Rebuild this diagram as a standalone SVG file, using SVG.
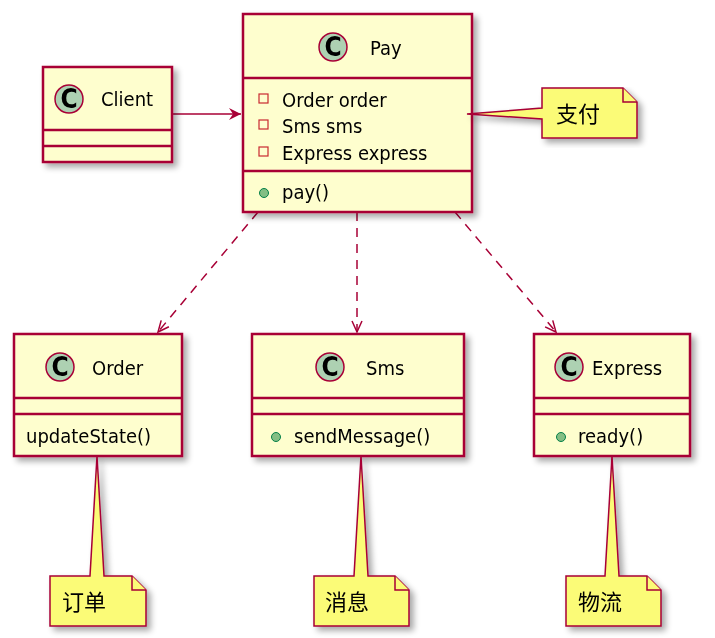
<svg xmlns="http://www.w3.org/2000/svg" width="715" height="638" viewBox="0 0 715 638">
<defs>
<filter id="sh" x="-10%" y="-10%" width="130%" height="130%"><feGaussianBlur in="SourceAlpha" stdDeviation="3"/><feOffset dx="4" dy="4"/><feComponentTransfer><feFuncA type="linear" slope="0.35"/></feComponentTransfer><feMerge><feMergeNode/><feMergeNode in="SourceGraphic"/></feMerge></filter>
<marker id="ar" markerWidth="14" markerHeight="14" refX="12" refY="6" orient="auto" markerUnits="userSpaceOnUse"><path d="M0,0 L12,6 L0,12 L4,6 Z" fill="#A80036"/></marker>
<marker id="op" markerWidth="14" markerHeight="14" refX="12" refY="6" orient="auto" markerUnits="userSpaceOnUse"><path d="M1,1 L12,6 L1,11" fill="none" stroke="#A80036" stroke-width="1.5"/></marker>
</defs>
<style>
.box{fill:#FEFECE;stroke:#A80036;stroke-width:2.5}
.ln{stroke:#A80036;stroke-width:2.5}
.note{fill:#FBFB77;stroke:#A80036;stroke-width:1.5}
.ci{fill:#ADD1B2;stroke:#A80036;stroke-width:1.5}
.cl{font-family:"DejaVu Sans Condensed","Liberation Sans",sans-serif;font-size:26px;font-weight:bold;fill:#000}
.t{font-family:"DejaVu Sans Condensed","Liberation Sans",sans-serif;font-size:20px;fill:#000}
.cj{font-family:"Noto Sans CJK SC",sans-serif;font-size:22px;fill:#000}
.pv{fill:none;stroke:#C82930;stroke-width:1.2}
.pb{fill:#84BE84;stroke:#038048;stroke-width:1}
.cn{stroke:#A80036;stroke-width:1.5;fill:none}
</style>
<g id="connectors">
<line class="cn" x1="172" y1="114" x2="241" y2="114" marker-end="url(#ar)"/>
<line class="cn" x1="258" y1="212" x2="158" y2="332" stroke-dasharray="9,7" marker-end="url(#op)"/>
<line class="cn" x1="357" y1="212" x2="357" y2="332" stroke-dasharray="9,7" marker-end="url(#op)"/>
<line class="cn" x1="455" y1="212" x2="556" y2="332" stroke-dasharray="9,7" marker-end="url(#op)"/>
</g>
<g id="Client" filter="url(#sh)">
<rect class="box" x="43" y="67" width="129" height="95"/>
<line class="ln" x1="43" y1="130" x2="172" y2="130"/><line class="ln" x1="43" y1="146" x2="172" y2="146"/>
<circle class="ci" cx="69" cy="99" r="14"/><text class="cl" x="69" y="108" text-anchor="middle">C</text>
<text class="t" x="101" y="106">Client</text>
</g>
<g id="Pay" filter="url(#sh)">
<rect class="box" x="243" y="14" width="229" height="198"/>
<line class="ln" x1="243" y1="78" x2="472" y2="78"/><line class="ln" x1="243" y1="171" x2="472" y2="171"/>
<circle class="ci" cx="333" cy="47" r="14"/><text class="cl" x="333" y="56" text-anchor="middle">C</text>
<text class="t" x="370" y="55">Pay</text>
<rect class="pv" x="259" y="94" width="9" height="9"/><text class="t" x="282" y="107">Order order</text>
<rect class="pv" x="259" y="120" width="9" height="9"/><text class="t" x="282" y="133">Sms sms</text>
<rect class="pv" x="259" y="147" width="9" height="9"/><text class="t" x="282" y="160">Express express</text>
<circle class="pb" cx="264" cy="193" r="4.5"/><text class="t" x="282" y="199">pay()</text>
</g>
<g id="note-pay" filter="url(#sh)">
<path class="note" d="M542,88 L623,88 L637,102 L637,138 L542,138 L542,119 L467,114 L542,108 Z"/>
<path class="note" d="M623,88 L623,102 L637,102" fill="none"/>
<text class="cj" x="556" y="122">支付</text>
</g>
<g id="Order" filter="url(#sh)">
<rect class="box" x="14" y="334" width="168" height="122"/>
<line class="ln" x1="14" y1="398" x2="182" y2="398"/><line class="ln" x1="14" y1="414" x2="182" y2="414"/>
<circle class="ci" cx="60" cy="367" r="14"/><text class="cl" x="60" y="376" text-anchor="middle">C</text>
<text class="t" x="92" y="375">Order</text>
<text class="t" x="26" y="443">updateState()</text>
</g>
<g id="Sms" filter="url(#sh)">
<rect class="box" x="252" y="334" width="212" height="122"/>
<line class="ln" x1="252" y1="398" x2="464" y2="398"/><line class="ln" x1="252" y1="414" x2="464" y2="414"/>
<circle class="ci" cx="330" cy="367" r="14"/><text class="cl" x="330" y="376" text-anchor="middle">C</text>
<text class="t" x="366" y="375">Sms</text>
<circle class="pb" cx="276" cy="437" r="4.5"/><text class="t" x="294" y="443">sendMessage()</text>
</g>
<g id="Express" filter="url(#sh)">
<rect class="box" x="534" y="334" width="156" height="122"/>
<line class="ln" x1="534" y1="398" x2="690" y2="398"/><line class="ln" x1="534" y1="414" x2="690" y2="414"/>
<circle class="ci" cx="569" cy="367" r="14"/><text class="cl" x="569" y="376" text-anchor="middle">C</text>
<text class="t" x="592" y="375">Express</text>
<circle class="pb" cx="561" cy="437" r="4.5"/><text class="t" x="578" y="443">ready()</text>
</g>
<g id="note-order" filter="url(#sh)">
<path class="note" d="M50,576 L90,576 L97,456 L104,576 L132,576 L146,590 L146,626 L50,626 Z"/>
<path class="note" d="M132,576 L132,590 L146,590" fill="none"/>
<text class="cj" x="62" y="610">订单</text>
</g>
<g id="note-sms" filter="url(#sh)">
<path class="note" d="M314,576 L354,576 L361,456 L368,576 L395,576 L409,590 L409,626 L314,626 Z"/>
<path class="note" d="M395,576 L395,590 L409,590" fill="none"/>
<text class="cj" x="325" y="610">消息</text>
</g>
<g id="note-express" filter="url(#sh)">
<path class="note" d="M566,576 L605,576 L612,456 L619,576 L647,576 L661,590 L661,626 L566,626 Z"/>
<path class="note" d="M647,576 L647,590 L661,590" fill="none"/>
<text class="cj" x="578" y="610">物流</text>
</g>
</svg>
